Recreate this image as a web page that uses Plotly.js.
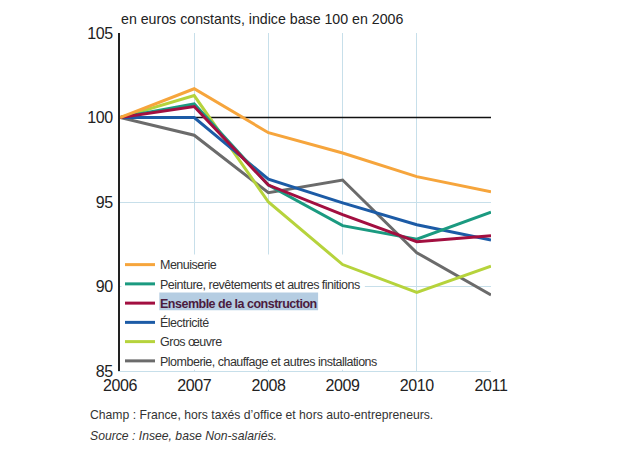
<!DOCTYPE html>
<html>
<head>
<meta charset="utf-8">
<script src="https://cdn.plot.ly/plotly-3.0.1.min.js"></script>
<style>
html,body{margin:0;padding:0;background:#fff;}
#chart{width:620px;height:465px;}
#chart .xtick text, #chart .ytick text{letter-spacing:-0.4px;}
#chart .legendtext{letter-spacing:-0.5px;}
</style>
</head>
<body>
<div id="chart"></div>
<script>
const years = [2006, 2007, 2008, 2009, 2010, 2011];
const menuiserie = [100, 101.7, 99.1, 97.9, 96.5, 95.6];
const peinture = [100, 100.8, 96.0, 93.6, 92.8, 94.4];
const ensemble = [100, 100.65, 96.0, 94.25, 92.65, 93.0];
const electricite = [100, 100.0, 96.35, 94.95, 93.65, 92.75];
const grosOeuvre = [100, 101.3, 95.0, 91.3, 89.65, 91.2];
const plomberie = [100, 98.95, 95.55, 96.3, 92.0, 89.5];

const seriesNames = [
  'Menuiserie',
  'Peinture, revêtements et autres finitions',
  '<b><span style="color:#4b1c3e">Ensemble de la construction</span></b>',
  'Électricité',
  'Gros œuvre',
  'Plomberie, chauffage et autres installations'
];
const seriesValues = [menuiserie, peinture, ensemble, electricite, grosOeuvre, plomberie];
const colors = ['#f6a53c', '#1b9a80', '#a20f40', '#1c5ba6', '#b6d33c', '#6b6b6b'];

const FONT = '"Liberation Sans", Arial, sans-serif';

// draw order: grey, lime, blue, teal, crimson, orange (orange on top)
const drawOrder = [5, 4, 3, 1, 2, 0];
const traces = seriesNames.map((n, i) => ({
  x: years, y: seriesValues[i], name: n, type: 'scatter', mode: 'lines',
  line: {color: colors[i], width: 3}, legendrank: i + 1
}));
const data = drawOrder.map(i => traces[i]);

const layout = {
  width: 620, height: 465,
  margin: {l: 120, r: 129, t: 33, b: 94},
  paper_bgcolor: '#fff', plot_bgcolor: '#fff',
  font: {family: FONT, size: 15, color: '#222'},
  showlegend: true,
  legend: {
    x: 0, xanchor: 'left', y: 0.358, yanchor: 'top',
    bgcolor: 'rgba(0,0,0,0)', borderwidth: 0,
    font: {family: FONT, size: 12.5, color: '#333'},
    traceorder: 'normal', tracegroupgap: 0
  },
  xaxis: {
    range: [2006, 2011], tickvals: years, ticktext: years.map(String),
    showgrid: true, gridcolor: '#c7dfea', gridwidth: 1,
    zeroline: false, showline: true, linecolor: '#c7dfea', linewidth: 1, ticks: '',
    tickfont: {family: FONT, size: 16, color: '#222'}
  },
  yaxis: {
    range: [85, 105], tickvals: [85, 90, 95, 100, 105],
    showgrid: true, gridcolor: '#c7dfea', gridwidth: 1,
    zeroline: false, showline: true, linecolor: '#222', linewidth: 2,
    ticks: '', ticklabelstandoff: 2,
    tickfont: {family: FONT, size: 16, color: '#222'}
  },
  shapes: [
    {type: 'rect', xref: 'x', yref: 'y', x0: 2006.02, x1: 2009.3, y0: 85.08, y1: 91.9,
     fillcolor: '#fff', line: {width: 0}, layer: 'between'},
    {type: 'rect', xref: 'x', yref: 'y', x0: 2006.53, x1: 2008.67, y0: 88.6, y1: 89.64,
     fillcolor: '#b5cde2', line: {width: 0}, layer: 'between'},
    {type: 'line', xref: 'x', yref: 'y', x0: 2006, x1: 2011, y0: 100, y1: 100,
     line: {color: '#111', width: 1.3}, layer: 'between'}
  ],
  annotations: [
    {xref: 'paper', yref: 'paper', x: -0.003, y: 1.0, xanchor: 'left', yanchor: 'bottom', yshift: 4,
     text: 'en euros constants, indice base 100 en 2006', showarrow: false,
     font: {family: FONT, size: 14.2, color: '#222'}},
    {xref: 'paper', yref: 'paper', x: -0.086, y: -0.13, xanchor: 'left', yanchor: 'middle',
     text: 'Champ : France, hors taxés d’office et hors auto-entrepreneurs.', showarrow: false,
     font: {family: FONT, size: 12.2, color: '#333'}},
    {xref: 'paper', yref: 'paper', x: -0.086, y: -0.192, xanchor: 'left', yanchor: 'middle',
     text: '<i>Source : Insee, base Non-salariés.</i>', showarrow: false,
     font: {family: FONT, size: 12.2, color: '#333'}}
  ]
};

Plotly.newPlot('chart', data, layout, {displayModeBar: false, staticPlot: true});
</script>
</body>
</html>
